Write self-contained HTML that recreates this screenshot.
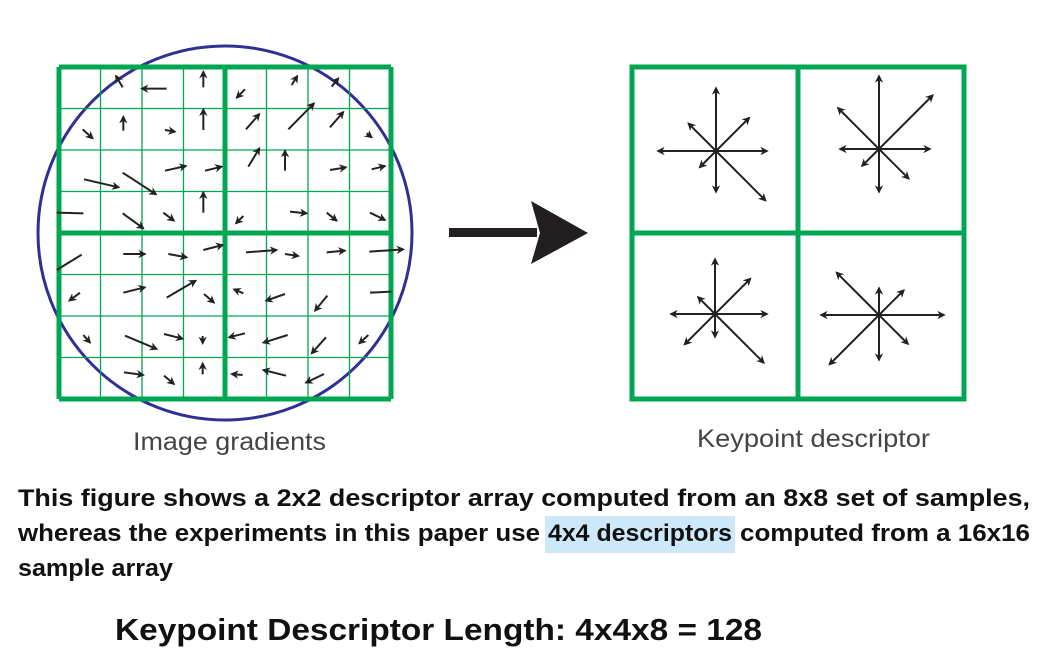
<!DOCTYPE html>
<html><head><meta charset="utf-8">
<style>
html,body{margin:0;padding:0;background:#fff;}
svg{display:block;}
</style></head>
<body>
<svg id="fig" width="1045" height="657" viewBox="0 0 1045 657" xmlns="http://www.w3.org/2000/svg">
  <defs>
    <marker id="ah" viewBox="0 0 10 10" refX="8" refY="5" markerWidth="4.2" markerHeight="4.2" orient="auto">
      <path d="M0,0 L10,5 L0,10 L3,5 Z" fill="#222"/>
    </marker>
  </defs>
  <g id="left"></g>
  <g id="bigarrow">
    <rect x="449" y="228" width="88" height="9" fill="#231f20"/>
    <polygon points="531,201 588,233 531,264 540,233" fill="#231f20"/>
  </g>
  <g id="right"></g>
  <text x="133" y="450" textLength="193" lengthAdjust="spacingAndGlyphs" font-family="Liberation Sans, sans-serif" font-size="25" fill="#444">Image gradients</text>
  <text x="697" y="447" textLength="233" lengthAdjust="spacingAndGlyphs" font-family="Liberation Sans, sans-serif" font-size="25" fill="#444">Keypoint descriptor</text>
  <rect x="545" y="516" width="190" height="37" fill="#cde8f8"/>
  <g font-family="Liberation Sans, sans-serif" font-weight="bold" font-size="24" fill="#111">
    <text x="18" y="506" textLength="1012" lengthAdjust="spacingAndGlyphs">This figure shows a 2x2 descriptor array computed from an 8x8 set of samples,</text>
    <text y="541"><tspan x="18" textLength="522" lengthAdjust="spacingAndGlyphs">whereas the experiments in this paper use</tspan><tspan x="548" textLength="184" lengthAdjust="spacingAndGlyphs">4x4 descriptors</tspan><tspan x="740" textLength="290" lengthAdjust="spacingAndGlyphs">computed from a 16x16</tspan></text>
    <text x="18" y="576" textLength="155" lengthAdjust="spacingAndGlyphs">sample array</text>
  </g>
  <text x="115" y="640" textLength="647" lengthAdjust="spacingAndGlyphs" font-family="Liberation Sans, sans-serif" font-weight="bold" font-size="31" fill="#111">Keypoint Descriptor Length: 4x4x8 = 128</text>
</svg>
<script>
// Gradient samples: tail/head in reference-zoom units (grid spans 90..1080)
const gradTailX=[278,410,520,645,785,905,158,280,405,520,648,775,900,1010,405,525,655,765,900,1025,162,278,80,278,400,520,640,780,890,1020,80,280,415,520,648,765,890,1018,150,280,410,522,640,765,892,1020,160,285,402,518,645,773,888,1015,282,402,518,638,768,882];
const gradTailY=[112,116,112,118,105,110,238,242,240,240,238,238,232,250,362,362,350,362,360,358,388,368,488,490,488,488,498,485,488,488,660,612,612,600,607,612,607,605,728,728,743,732,730,732,737,728,855,857,852,858,850,855,862,855,967,977,973,975,977,972];
const gradHeadX=[258,335,520,620,802,925,188,280,435,520,688,852,940,1025,468,575,688,765,948,1065,266,378,160,340,432,520,618,830,920,1065,155,345,470,578,740,805,945,1120,118,345,497,552,612,708,855,1085,180,380,458,518,597,700,845,988,340,432,518,605,700,828];
const gradHeadY=[78,116,65,143,78,85,265,200,245,178,192,160,186,262,348,350,295,302,352,348,412,433,490,535,512,427,520,490,512,510,614,612,622,585,600,618,602,598,752,712,692,758,718,752,782,725,878,897,866,880,862,878,910,880,975,1002,940,972,960,998];
const gradHasHead=[1,1,1,1,1,1,1,1,1,1,1,1,1,1,1,1,1,1,1,1,1,1,0,1,1,1,1,1,1,1,0,1,1,1,1,1,1,1,1,1,1,1,1,1,1,0,1,1,1,1,1,1,1,1,1,1,1,1,1,1];
// Descriptor histograms: 8 bins (E,NE,N,NW,W,SW,S,SE) per cell
const cellTL=[51,47,63,39,58,23,41,70];
const cellTR=[51,76,73,58,39,24,43,42];
const cellBL=[52,50,55,24,44,43,23,69];
const cellBR=[65,35,27,60,58,70,45,41];
const NS='http://www.w3.org/2000/svg';
function mk(tag,attrs,parent){const e=document.createElementNS(NS,tag);for(const k in attrs)e.setAttribute(k,attrs[k]);parent.appendChild(e);return e;}
const sx=z=>30+z/3, sy=z=>50+z/3;
const left=document.getElementById('left');
// circle
const circ=mk('circle',{cx:225,cy:233,r:187,fill:'none',stroke:'#2e3192','stroke-width':3},left);


// grid
const gx0=59,gy0=67,gs=332,cs=gs/8;
for(let i=0;i<=8;i++){
  const thick=(i%4===0);
  const w=thick?5:1.3;
  const v=mk('line',{x1:gx0+i*cs,y1:gy0,x2:gx0+i*cs,y2:gy0+gs,stroke:'#00a651','stroke-width':w},left);
  
  
  const h=mk('line',{x1:gx0,y1:gy0+i*cs,x2:gx0+gs,y2:gy0+i*cs,stroke:'#00a651','stroke-width':w},left);
  
  
}
for(let i=0;i<gradTailX.length;i++){
  const a={x1:sx(gradTailX[i]),y1:sy(gradTailY[i]),x2:sx(gradHeadX[i]),y2:sy(gradHeadY[i]),stroke:'#222','stroke-width':2};
  if(gradHasHead[i])a['marker-end']='url(#ah)';
  const l=mk('line',a,left);
  
  
}
// right panel
const right=document.getElementById('right');
const rx0=632,ry0=67,rs=332;
const rect=mk('rect',{x:rx0,y:ry0,width:rs,height:rs,fill:'none',stroke:'#00a651','stroke-width':5},right);


const d1=mk('line',{x1:rx0+rs/2,y1:ry0,x2:rx0+rs/2,y2:ry0+rs,stroke:'#00a651','stroke-width':5},right);


const d2=mk('line',{x1:rx0,y1:ry0+rs/2,x2:rx0+rs,y2:ry0+rs/2,stroke:'#00a651','stroke-width':5},right);


const cells=[cellTL,cellTR,cellBL,cellBR];
const centers=[[716,151],[879,149],[715,314],[879,315]];
cells.forEach((c,ci)=>{
  const [cx,cy]=centers[ci];
  c.forEach((len,b)=>{
    const ang=b*Math.PI/4;
    const l=mk('line',{x1:cx,y1:cy,x2:cx+len*Math.cos(ang),y2:cy-len*Math.sin(ang),stroke:'#222','stroke-width':2,'marker-end':'url(#ah)'},right);
    
    
  });
});
</script>
</body></html>
